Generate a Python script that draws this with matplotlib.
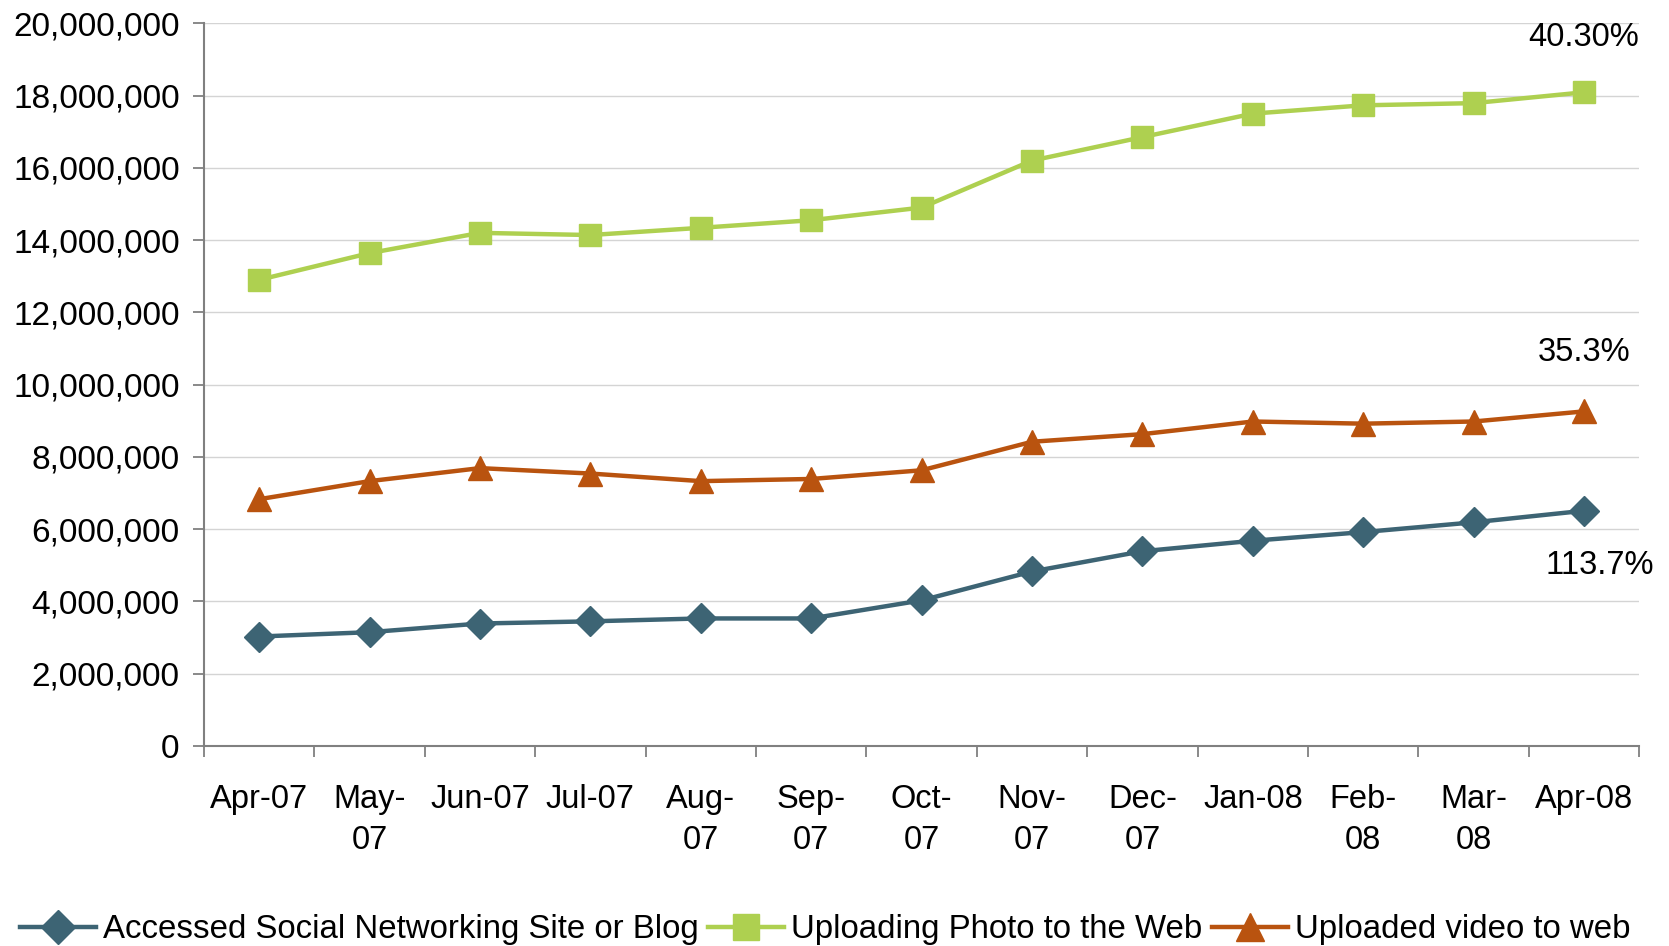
import matplotlib.pyplot as plt
from matplotlib.ticker import FuncFormatter

plt.rcParams['font.family'] = ['Liberation Sans', 'DejaVu Sans']

months = ['Apr-07', 'May-\n07', 'Jun-07', 'Jul-07', 'Aug-\n07', 'Sep-\n07', 'Oct-\n07',
          'Nov-\n07', 'Dec-\n07', 'Jan-08', 'Feb-\n08', 'Mar-\n08', 'Apr-08']

social = [3030000, 3150000, 3390000, 3450000, 3530000, 3530000, 4030000,
          4830000, 5390000, 5680000, 5920000, 6190000, 6510000]
photo = [12900000, 13640000, 14200000, 14140000, 14340000, 14550000, 14900000,
         16200000, 16850000, 17500000, 17730000, 17790000, 18090000]
video = [6830000, 7330000, 7690000, 7540000, 7330000, 7390000, 7630000,
         8420000, 8630000, 8980000, 8920000, 8980000, 9260000]

labels = ['Accessed Social Networking Site or Blog', 'Uploading Photo to the Web',
          'Uploaded video to web']
growth = ['113.7%', '40.30%', '35.3%']

fig = plt.figure(figsize=(16.69, 9.46), dpi=100)
ax = fig.add_axes([0.1222, 0.2114, 0.86, 0.764])

x = list(range(len(months)))
ax.plot(x, social, color='#3d6474', lw=3.2, marker='D', ms=15, label=labels[0], clip_on=False)
ax.plot(x, photo, color='#aed050', lw=3.2, marker='s', ms=16, label=labels[1], clip_on=False)
ax.plot(x, video, color='#b9530f', lw=3.2, marker='^', ms=17, label=labels[2], clip_on=False)

ax.set_xlim(-0.5, 12.5)
ax.set_ylim(0, 20000000)
ax.set_yticks(range(0, 20000001, 2000000))
ax.yaxis.set_major_formatter(FuncFormatter(lambda v, p: f'{int(v):,}'))
ax.set_xticks(x)
ax.set_xticklabels(months, linespacing=1.45)
ax.set_xticks([i - 0.5 for i in range(len(months) + 1)], minor=True)
ax.tick_params(axis='x', which='major', length=0, pad=27, labelsize=23.5)
ax.tick_params(axis='x', which='minor', length=8, width=1.3, color='#808080', direction='out')
ax.tick_params(axis='y', length=8, width=1.3, color='#808080', pad=9.5, labelsize=24)

ax.grid(axis='y', color='#d4d4d4', lw=1)
ax.set_axisbelow(True)
for s in ['top', 'right']:
    ax.spines[s].set_visible(False)
for s in ['left', 'bottom']:
    ax.spines[s].set_color('#808080')
    ax.spines[s].set_linewidth(1.5)

ax.text(12.0, 19600000, growth[1], fontsize=23.5, ha='center', va='center')
ax.text(12.0, 10880000, growth[2], fontsize=23.5, ha='center', va='center')
ax.text(12.14, 5000000, growth[0], fontsize=23.5, ha='center', va='center', clip_on=False)

fig.legend(loc='center left', bbox_to_anchor=(0.004, 0.017), ncol=3, frameon=False,
           fontsize=23.8, handlelength=2.3, handletextpad=0.2, columnspacing=0.3,
           borderaxespad=0, markerscale=1.15)

fig.savefig('out.png', dpi=100)
